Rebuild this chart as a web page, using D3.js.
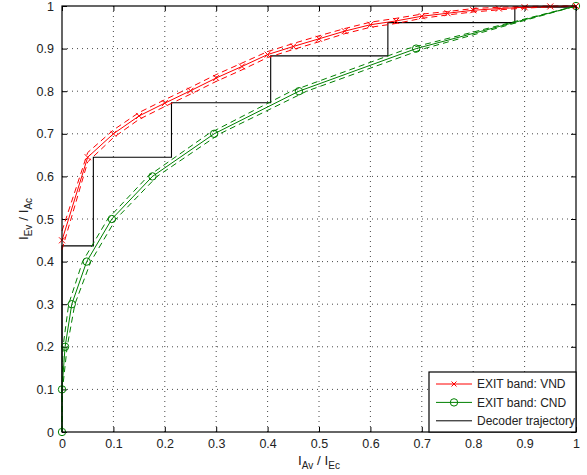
<!DOCTYPE html>
<html>
<head>
<meta charset="utf-8">
<script src="https://cdn.jsdelivr.net/npm/d3@7"></script>
<style>
  html, body { margin: 0; padding: 0; background: #fff; }
  svg { display: block; font-family: "Liberation Sans", Arial, Helvetica, sans-serif; }
</style>
</head>
<body>
<svg id="chart" width="587" height="475"></svg>
<script>
// ---------- data ----------
const xTicks = [0, 0.1, 0.2, 0.3, 0.4, 0.5, 0.6, 0.7, 0.8, 0.9, 1];
const yTicks = [0, 0.1, 0.2, 0.3, 0.4, 0.5, 0.6, 0.7, 0.8, 0.9, 1];
const xTickLabels = ["0", "0.1", "0.2", "0.3", "0.4", "0.5", "0.6", "0.7", "0.8", "0.9", "1"];
const yTickLabels = ["0", "0.1", "0.2", "0.3", "0.4", "0.5", "0.6", "0.7", "0.8", "0.9", "1"];

// VND EXIT curve (x = I_Av/I_Ec, y = I_Ev/I_Ac)
const vndX = [0, 0.05, 0.1, 0.15, 0.2, 0.25, 0.3, 0.35, 0.4, 0.45, 0.5, 0.55, 0.6, 0.65, 0.7, 0.75, 0.8, 0.85, 0.9, 0.95, 1];
const vndY = [0.45, 0.645, 0.70, 0.742, 0.772, 0.801, 0.831, 0.858, 0.886, 0.905, 0.923, 0.941, 0.956, 0.965, 0.976, 0.983, 0.990, 0.994, 0.997, 0.999, 1];
const vndUpperY = [0.472, 0.656, 0.709, 0.750, 0.780, 0.809, 0.839, 0.866, 0.893, 0.912, 0.930, 0.947, 0.962, 0.971, 0.981, 0.987, 0.994, 0.997, 0.999, 1.0, 1.0];
const vndLowerY = [0.428, 0.634, 0.691, 0.734, 0.764, 0.793, 0.823, 0.850, 0.879, 0.898, 0.916, 0.935, 0.950, 0.959, 0.971, 0.979, 0.986, 0.991, 0.995, 0.998, 1.0];

// CND EXIT curve
const cndY = [0, 0.1, 0.2, 0.3, 0.4, 0.5, 0.6, 0.7, 0.8, 0.9, 1];
const cndX = [0, 0, 0.006, 0.019, 0.048, 0.097, 0.176, 0.296, 0.461, 0.689, 1];
const cndLeftX = [0, 0, 0.002, 0.013, 0.040, 0.089, 0.167, 0.285, 0.446, 0.673, 1];
const cndRightX = [0, 0.001, 0.010, 0.025, 0.056, 0.105, 0.185, 0.307, 0.476, 0.705, 1];

// Decoder trajectory (staircase corners)
const trajX = [0, 0, 0.061, 0.061, 0.213, 0.213, 0.406, 0.406, 0.634, 0.634, 0.881, 0.881, 1];
const trajY = [0, 0.437, 0.437, 0.645, 0.645, 0.773, 0.773, 0.883, 0.883, 0.961, 0.961, 0.997, 0.997];

const legendLabels = ["EXIT band: VND", "EXIT band: CND", "Decoder trajectory"];

// ---------- layout ----------
const svg = d3.select("#chart");
const L = 62, R = 576, T = 6, B = 432;
const x = d3.scaleLinear().domain([0, 1]).range([L, R]);
const y = d3.scaleLinear().domain([0, 1]).range([B, T]);
const RED = "#ff0000", GREEN = "#008000";

// grid
const grid = svg.append("g");
grid.selectAll("line.gx").data(xTicks.slice(1, -1)).join("line")
  .attr("x1", d => x(d)).attr("x2", d => x(d)).attr("y1", B).attr("y2", T)
  .attr("stroke", "#333").attr("stroke-width", 0.9).attr("stroke-dasharray", "1,4");
grid.selectAll("line.gy").data(yTicks.slice(1, -1)).join("line")
  .attr("y1", d => y(d)).attr("y2", d => y(d)).attr("x1", L).attr("x2", R)
  .attr("stroke", "#333").attr("stroke-width", 0.9).attr("stroke-dasharray", "1,4");

// axes (ticks inside)
const fmtX = (d, i) => xTickLabels[i];
const fmtY = (d, i) => yTickLabels[i];
const axB = svg.append("g").attr("transform", `translate(0,${B})`)
  .call(d3.axisBottom(x).tickValues(xTicks).tickFormat(fmtX).tickSizeInner(-5).tickSizeOuter(0).tickPadding(7));
const axL = svg.append("g").attr("transform", `translate(${L},0)`)
  .call(d3.axisLeft(y).tickValues(yTicks).tickFormat(fmtY).tickSizeInner(-5).tickSizeOuter(0).tickPadding(8));
const axT = svg.append("g").attr("transform", `translate(0,${T})`)
  .call(d3.axisTop(x).tickValues(xTicks).tickFormat("").tickSizeInner(-5).tickSizeOuter(0));
const axR = svg.append("g").attr("transform", `translate(${R},0)`)
  .call(d3.axisRight(y).tickValues(yTicks).tickFormat("").tickSizeInner(-5).tickSizeOuter(0));
[axB, axL, axT, axR].forEach(a => {
  a.select(".domain").remove();
  a.selectAll("line").attr("stroke", "#000");
  a.selectAll("text").attr("fill", "#222").style("font-size", "12.5px")
    .style("font-family", '"Liberation Sans", Arial, sans-serif');
});

const line = d3.line().x(d => x(d[0])).y(d => y(d[1]));
const zip = (xs, ys) => xs.map((v, i) => [v, ys[i]]);

// trajectory
svg.append("path").datum(zip(trajX, trajY)).attr("d", line)
  .attr("fill", "none").attr("stroke", "#000").attr("stroke-width", 1.1);

// CND band
[cndLeftX, cndRightX].forEach(xs => {
  svg.append("path").datum(zip(xs, cndY)).attr("d", line)
    .attr("fill", "none").attr("stroke", GREEN).attr("stroke-width", 1).attr("stroke-dasharray", "6,4");
});
svg.append("path").datum(zip(cndX, cndY)).attr("d", line)
  .attr("fill", "none").attr("stroke", GREEN).attr("stroke-width", 1);
svg.append("g").selectAll("circle").data(zip(cndX, cndY)).join("circle")
  .attr("cx", d => x(d[0])).attr("cy", d => y(d[1])).attr("r", 3.7)
  .attr("fill", "none").attr("stroke", GREEN).attr("stroke-width", 1);

// VND band
[vndUpperY, vndLowerY].forEach(ys => {
  svg.append("path").datum(zip(vndX, ys)).attr("d", line)
    .attr("fill", "none").attr("stroke", RED).attr("stroke-width", 1).attr("stroke-dasharray", "6,4");
});
svg.append("path").datum(zip(vndX, vndY)).attr("d", line)
  .attr("fill", "none").attr("stroke", RED).attr("stroke-width", 1);
const crossPath = (cx, cy, s) => `M${cx - s},${cy - s}L${cx + s},${cy + s}M${cx - s},${cy + s}L${cx + s},${cy - s}`;
svg.append("g").selectAll("path").data(zip(vndX, vndY)).join("path")
  .attr("d", d => crossPath(x(d[0]), y(d[1]), 3))
  .attr("fill", "none").attr("stroke", RED).attr("stroke-width", 1);

// frame
svg.append("rect").attr("x", L).attr("y", T).attr("width", R - L).attr("height", B - T)
  .attr("fill", "none").attr("stroke", "#000").attr("stroke-width", 1.2);

// axis labels
const xl = svg.append("text").attr("x", (L + R) / 2).attr("y", 465).attr("text-anchor", "middle")
  .style("font-size", "13.5px").attr("fill", "#222");
xl.append("tspan").text("I");
xl.append("tspan").attr("dy", 4).style("font-size", "10px").text("Av");
xl.append("tspan").attr("dy", -4).text(" / I");
xl.append("tspan").attr("dy", 4).style("font-size", "10px").text("Ec");

const yl = svg.append("text").attr("transform", `translate(28,${(T + B) / 2}) rotate(-90)`)
  .attr("text-anchor", "middle").style("font-size", "13.5px").attr("fill", "#222");
yl.append("tspan").text("I");
yl.append("tspan").attr("dy", 4).style("font-size", "10px").text("Ev");
yl.append("tspan").attr("dy", -4).text(" / I");
yl.append("tspan").attr("dy", 4).style("font-size", "10px").text("Ac");

// legend
const lg = svg.append("g");
const lgX = 429, lgY = 372, lgW = R - 429, lgH = B - 372;
lg.append("rect").attr("x", lgX).attr("y", lgY).attr("width", lgW).attr("height", lgH)
  .attr("fill", "#fff").attr("stroke", "#000").attr("stroke-width", 1.2);
const lgColors = [RED, GREEN, "#000"];
legendLabels.forEach((lab, i) => {
  const cy = lgY + 12 + i * 18.4;
  lg.append("line").attr("x1", lgX + 7).attr("x2", lgX + 43).attr("y1", cy).attr("y2", cy)
    .attr("stroke", lgColors[i]).attr("stroke-width", 1);
  if (i === 0) {
    lg.append("path").attr("d", crossPath(lgX + 25, cy, 2.5)).attr("stroke", RED).attr("stroke-width", 1);
  } else if (i === 1) {
    lg.append("circle").attr("cx", lgX + 25).attr("cy", cy).attr("r", 3.7)
      .attr("fill", "none").attr("stroke", GREEN).attr("stroke-width", 1);
  }
  lg.append("text").attr("x", lgX + 48).attr("y", cy + 4.3).style("font-size", "12px")
    .attr("fill", "#222").text(lab);
});
</script>
</body>
</html>
